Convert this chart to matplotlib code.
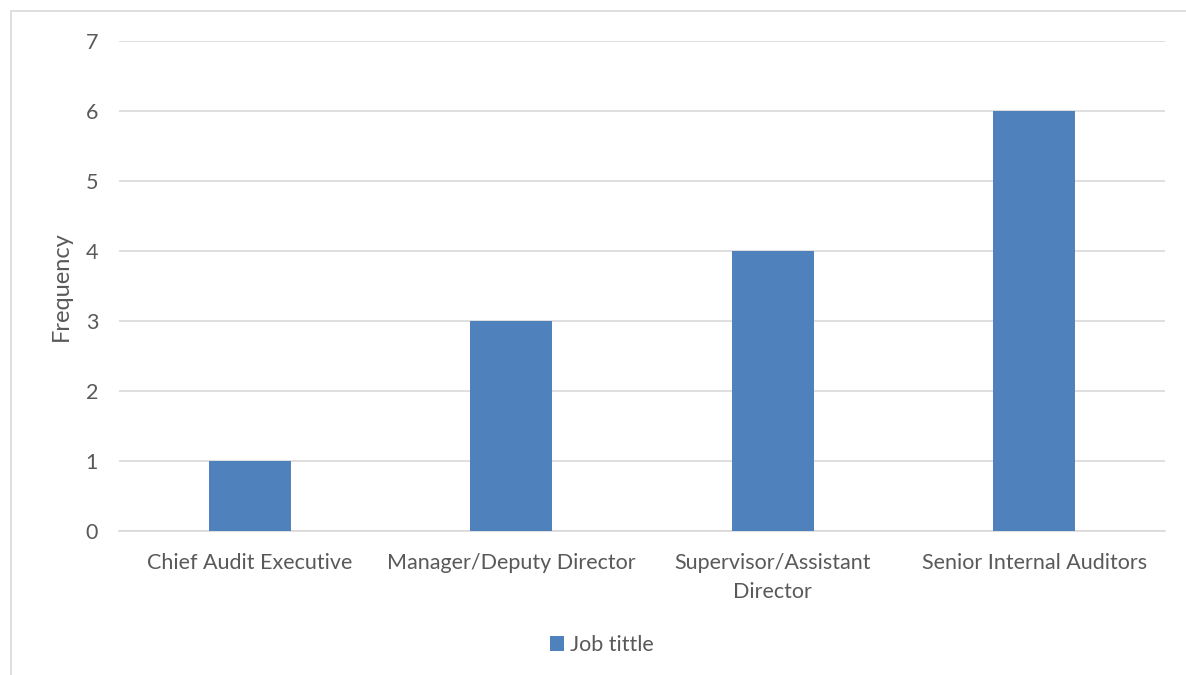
import matplotlib.pyplot as plt
from matplotlib.patches import Rectangle

categories = ['Chief Audit Executive', 'Manager/Deputy Director',
              'Supervisor/Assistant\nDirector', 'Senior Internal Auditors']
frequency = [1, 3, 4, 6]

bar_color = '#4F81BD'
text_color = '#595959'
grid_color = '#D9D9D9'

plt.rcParams['font.family'] = ['Lato', 'DejaVu Sans']

fig = plt.figure(figsize=(11.86, 6.75), dpi=100)
ax = fig.add_axes([0.1003, 0.2133, 0.882, 0.726])

# outer chart frame (left and top edges show, the rest runs off the canvas)
fig.patches.append(Rectangle((11 / 1186, -0.05), 1.2, 1 - 11 / 675 + 0.05,
                             transform=fig.transFigure, fill=False,
                             edgecolor=grid_color, linewidth=1.2))

x = range(len(categories))
ax.bar(x, frequency, width=0.315, color=bar_color, label='Job tittle', zorder=3)

ax.set_xlim(-0.5, len(categories) - 0.5)
ax.set_ylim(0, 7)
ax.set_yticks(range(0, 8))
ax.yaxis.grid(True, color=grid_color, linewidth=1.2, zorder=0)
ax.set_axisbelow(True)

for side in ['top', 'right', 'left']:
    ax.spines[side].set_visible(False)
ax.spines['bottom'].set_color(grid_color)
ax.spines['bottom'].set_linewidth(1.2)

ax.set_xticks(list(x))
ax.set_xticklabels(categories, fontsize=15.5, color=text_color, linespacing=1.55)
ax.tick_params(axis='x', length=0, pad=16)
ax.tick_params(axis='y', length=0, pad=15, labelsize=15.5, labelcolor=text_color)

ax.set_ylabel('Frequency', fontsize=17, color=text_color, labelpad=10)

ax.legend(loc='center', bbox_to_anchor=(602 / 1186, 1 - 645 / 675),
          bbox_transform=fig.transFigure, frameon=False, fontsize=15.5,
          labelcolor=text_color, handlelength=0.65, handleheight=0.65,
          handletextpad=0.3)

fig.savefig('out.png', dpi=100, facecolor='white')
